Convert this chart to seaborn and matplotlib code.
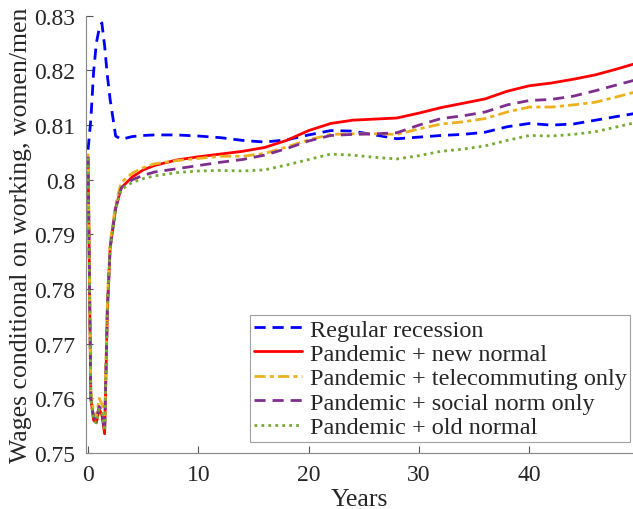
import matplotlib
matplotlib.use("Agg")
import matplotlib.pyplot as plt
import seaborn as sns
import pandas as pd

# quarterly early, then every two years
years = [0, 0.25, 0.5, 0.75, 1.0, 1.25, 1.5, 1.75, 2.0, 2.5, 3, 4, 5, 6, 8, 10, 12, 14, 16,
         18, 20, 22, 24, 26, 28, 30, 32, 34, 36, 38, 40, 42, 44, 46, 48, 49.5]

regular_recession = [0.8055, 0.8110, 0.8197, 0.8250, 0.8276, 0.8287, 0.8245, 0.8190, 0.8147,
                     0.8080, 0.8074, 0.8079, 0.8081, 0.8082, 0.8082, 0.8080, 0.8077, 0.8072,
                     0.8069, 0.8073, 0.8082, 0.8090, 0.8089, 0.8082, 0.8075, 0.8078, 0.8081,
                     0.8083, 0.8087, 0.8097, 0.8103, 0.8100, 0.8102, 0.8109, 0.8116, 0.8121]
new_normal = [0.8040, 0.7600, 0.7560, 0.7555, 0.7580, 0.7570, 0.7535, 0.7760, 0.7875,
              0.7948, 0.7985, 0.8005, 0.8018, 0.8026, 0.8036, 0.8042, 0.8047, 0.8052,
              0.8059, 0.8072, 0.8090, 0.8103, 0.8109, 0.8111, 0.8113, 0.8122, 0.8132,
              0.8140, 0.8148, 0.8162, 0.8172, 0.8177, 0.8184, 0.8192, 0.8203, 0.8212]
telecommuting_only = [0.8048, 0.7610, 0.7575, 0.7565, 0.7600, 0.7590, 0.7550, 0.7780, 0.7885,
                      0.7955, 0.7995, 0.8012, 0.8022, 0.8029, 0.8035, 0.8039, 0.8043, 0.8043,
                      0.8048, 0.8060, 0.8073, 0.8083, 0.8084, 0.8084, 0.8083, 0.8093, 0.8102,
                      0.8106, 0.8112, 0.8124, 0.8133, 0.8133, 0.8137, 0.8142, 0.8152, 0.8160]
social_norm_only = [0.8042, 0.7600, 0.7565, 0.7560, 0.7585, 0.7575, 0.7540, 0.7765, 0.7875,
                    0.7948, 0.7985, 0.8000, 0.8008, 0.8014, 0.8020, 0.8026, 0.8032, 0.8037,
                    0.8045, 0.8057, 0.8071, 0.8081, 0.8083, 0.8084, 0.8086, 0.8100, 0.8112,
                    0.8117, 0.8124, 0.8137, 0.8145, 0.8147, 0.8153, 0.8163, 0.8174, 0.8182]
old_normal = [0.8040, 0.7600, 0.7560, 0.7555, 0.7580, 0.7572, 0.7540, 0.7760, 0.7870,
              0.7945, 0.7982, 0.7995, 0.8002, 0.8007, 0.8013, 0.8016, 0.8017, 0.8016,
              0.8018, 0.8027, 0.8037, 0.8047, 0.8045, 0.8041, 0.8038, 0.8044, 0.8052,
              0.8056, 0.8062, 0.8072, 0.8081, 0.8080, 0.8083, 0.8088, 0.8097, 0.8104]

labels = ["Regular recession", "Pandemic + new normal", "Pandemic + telecommuting only",
          "Pandemic + social norm only", "Pandemic + old normal"]
colors = ["#0000ff", "#ff0000", "#edb120", "#7e2f8e", "#77ac30"]
dashes = [(4, 2.5), (), (4, 1.5, 1.5, 1.5), (4, 2.5), (1, 1.5)]

series = [regular_recession, new_normal, telecommuting_only, social_norm_only, old_normal]

sns.set_style("white")
plt.rcParams["font.family"] = ["Liberation Serif", "DejaVu Serif"]

fig = plt.figure(figsize=(6.33, 5.1), dpi=100)
ax = fig.add_axes([0.136, 0.110, 0.864, 0.857])

for vals, lab, col, dsh in zip(series, labels, colors, dashes):
    df = pd.DataFrame({"Years": years, "val": vals})
    sns.lineplot(data=df, x="Years", y="val", ax=ax, color=col, lw=2, label=lab)
    ln = ax.get_lines()[-1]
    if dsh:
        ln.set_dashes(dsh)

ax.set_xlim(-0.18, 49.4)
ax.set_ylim(0.75, 0.83)
ax.set_xticks([0, 10, 20, 30, 40])
ax.set_yticks([0.75, 0.76, 0.77, 0.78, 0.79, 0.80, 0.81, 0.82, 0.83])
ax.set_yticklabels(["0.75", "0.76", "0.77", "0.78", "0.79", "0.8", "0.81", "0.82", "0.83"])
ax.tick_params(direction="in", length=5, width=0.8, color="#555555", labelsize=17,
               left=True, bottom=True, pad=8)
for s in ["top", "right"]:
    ax.spines[s].set_visible(False)
for s in ["left", "bottom"]:
    ax.spines[s].set_color("#888888")
    ax.spines[s].set_linewidth(0.8)
ax.set_xlabel("Years", fontsize=18.5, labelpad=2)
ax.set_ylabel("Wages conditional on working, women/men", fontsize=18.5, labelpad=1)

leg = ax.legend(loc="lower right", bbox_to_anchor=(0.995, 0.025), fontsize=17.5, frameon=True,
                fancybox=False, edgecolor="#888888", handlelength=2.0, handletextpad=0.3,
                labelspacing=0.1, borderpad=0.15, borderaxespad=0)
leg.get_frame().set_linewidth(0.8)

fig.savefig("out.png", dpi=100)
